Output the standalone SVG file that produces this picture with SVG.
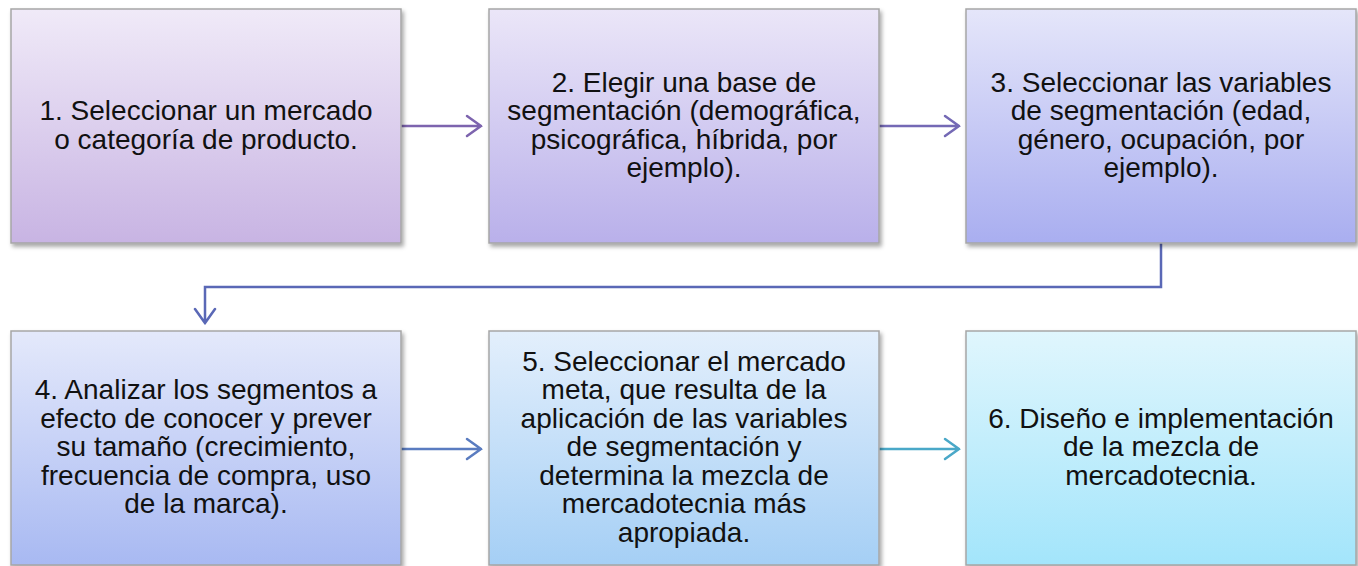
<svg xmlns="http://www.w3.org/2000/svg" width="1358" height="566" viewBox="0 0 1358 566">
<defs>
<linearGradient id="g1" x1="0" y1="0" x2="0" y2="1"><stop offset="0" stop-color="#f0eaf8"/><stop offset="1" stop-color="#c8b4e3"/></linearGradient>
<linearGradient id="g2" x1="0" y1="0" x2="0" y2="1"><stop offset="0" stop-color="#ebe6f8"/><stop offset="1" stop-color="#b9b0ea"/></linearGradient>
<linearGradient id="g3" x1="0" y1="0" x2="0" y2="1"><stop offset="0" stop-color="#e5e6fa"/><stop offset="1" stop-color="#a9aef0"/></linearGradient>
<linearGradient id="g4" x1="0" y1="0" x2="0" y2="1"><stop offset="0" stop-color="#e4e9fb"/><stop offset="1" stop-color="#a8b9f2"/></linearGradient>
<linearGradient id="g5" x1="0" y1="0" x2="0" y2="1"><stop offset="0" stop-color="#e3effc"/><stop offset="1" stop-color="#a5cff5"/></linearGradient>
<linearGradient id="g6" x1="0" y1="0" x2="0" y2="1"><stop offset="0" stop-color="#e0f6fd"/><stop offset="1" stop-color="#a3e5fb"/></linearGradient>
<filter id="sh" x="-5%" y="-5%" width="112%" height="115%"><feDropShadow dx="2" dy="3" stdDeviation="2" flood-color="#000" flood-opacity="0.35"/></filter>
</defs>
<style>
.box{stroke:#a6a6a6;stroke-width:1.5;filter:url(#sh)}
.t{font-family:"Liberation Sans",Arial,sans-serif;font-size:28px;fill:#111;text-anchor:middle}
.c{fill:none;stroke-width:2.5;stroke-linecap:round;stroke-linejoin:miter}
</style>
<rect width="1358" height="566" fill="#ffffff"/>
<g id="connectors">
<path class="c" stroke="#7d64ae" d="M401 126H481M467 116L481 126L467 136"/>
<path class="c" stroke="#7469b5" d="M879 126H959M945 116L959 126L945 136"/>
<path class="c" stroke="#5a68b6" d="M1161 243V287H205V323M195 309L205 323L215 309"/>
<path class="c" stroke="#5a7cc0" d="M401 449H481M467 439L481 449L467 459"/>
<path class="c" stroke="#4aa8c8" d="M879 449H959M945 439L959 449L945 459"/>
</g>
<g id="node1">
<rect class="box" x="11" y="9" width="390" height="234" fill="url(#g1)"/>
<text class="t"><tspan x="206" y="120">1. Seleccionar un mercado</tspan><tspan x="206" y="148.5">o categoría de producto.</tspan></text>
</g>
<g id="node2">
<rect class="box" x="489" y="9" width="390" height="234" fill="url(#g2)"/>
<text class="t"><tspan x="684" y="91.5">2. Elegir una base de</tspan><tspan x="684" y="120">segmentación (demográfica,</tspan><tspan x="684" y="148.5">psicográfica, híbrida, por</tspan><tspan x="684" y="177">ejemplo).</tspan></text>
</g>
<g id="node3">
<rect class="box" x="966" y="9" width="390" height="234" fill="url(#g3)"/>
<text class="t"><tspan x="1161" y="91.5">3. Seleccionar las variables</tspan><tspan x="1161" y="120">de segmentación (edad,</tspan><tspan x="1161" y="148.5">género, ocupación, por</tspan><tspan x="1161" y="177">ejemplo).</tspan></text>
</g>
<g id="node4">
<rect class="box" x="11" y="331" width="390" height="234" fill="url(#g4)"/>
<text class="t"><tspan x="206" y="399">4. Analizar los segmentos a</tspan><tspan x="206" y="427.5">efecto de conocer y prever</tspan><tspan x="206" y="456">su tamaño (crecimiento,</tspan><tspan x="206" y="484.5">frecuencia de compra, uso</tspan><tspan x="206" y="513">de la marca).</tspan></text>
</g>
<g id="node5">
<rect class="box" x="489" y="331" width="390" height="234" fill="url(#g5)"/>
<text class="t"><tspan x="684" y="370.5">5. Seleccionar el mercado</tspan><tspan x="684" y="399">meta, que resulta de la</tspan><tspan x="684" y="427.5">aplicación de las variables</tspan><tspan x="684" y="456">de segmentación y</tspan><tspan x="684" y="484.5">determina la mezcla de</tspan><tspan x="684" y="513">mercadotecnia más</tspan><tspan x="684" y="541.5">apropiada.</tspan></text>
</g>
<g id="node6">
<rect class="box" x="966" y="331" width="390" height="234" fill="url(#g6)"/>
<text class="t"><tspan x="1161" y="427.5">6. Diseño e implementación</tspan><tspan x="1161" y="456">de la mezcla de</tspan><tspan x="1161" y="484.5">mercadotecnia.</tspan></text>
</g>
</svg>
